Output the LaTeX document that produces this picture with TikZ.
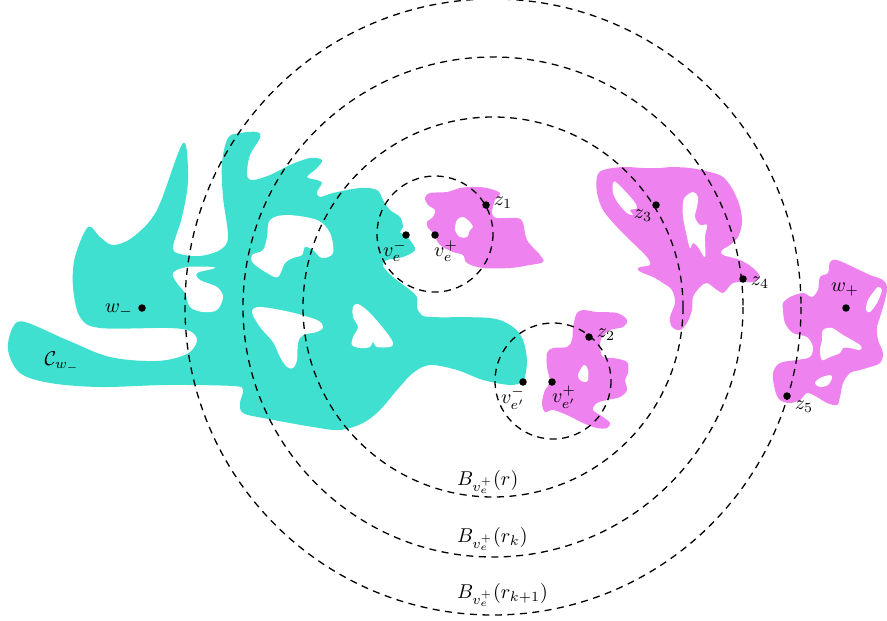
\documentclass[tikz,border=0pt]{standalone}
\usepackage{graphicx}
\begin{document}
\definecolor{cyanblob}{RGB}{64,224,208}
\definecolor{pinkblob}{RGB}{238,130,238}
\newcommand{\bigmath}[1]{\scalebox{2}{$#1$}}
\begin{tikzpicture}[x=1pt,y=-1pt,
  ball/.style={draw=black,line width=1.3pt,dash pattern=on 7pt off 5.5pt},
  pt/.style={circle,fill=black,inner sep=0pt,minimum size=7.5pt},
  lab/.style={inner sep=0pt}]
\useasboundingbox (0,0) rectangle (887,621);
% cyan cluster
\fill[cyanblob] plot[smooth cycle,tension=0.55] coordinates {
(13,327) (25,322) (67,340) (110,357) (157,361) (187,354) (197,341) (190,331) (167,328) (100,328) (80,317) (73,287) (75,257) (88,227) (100,237) (113,245) (133,237) (157,210) (183,143) (188,180) (182,217) (173,247) (180,254) (200,256) (220,250) (228,237) (223,197) (222,163) (228,138) (240,133) (257,132) (260,138) (250,155) (247,175) (253,180) (270,175) (290,165) (310,158) (322,160) (317,168) (307,177) (317,180) (322,183) (317,192) (320,197) (333,193) (360,188) (377,190) (383,200) (390,210) (400,217) (403,227) (400,232) (406,236) (410,240) (415,250) (403,257) (387,260) (383,266) (393,277) (410,290) (417,297) (417,307) (420,313) (430,317) (490,318) (513,327) (523,340) (527,360) (525,377) (523,382) (510,385) (483,380) (457,370) (430,365) (413,373) (397,390) (380,410) (363,423) (340,430) (313,427) (263,418) (243,413) (240,403) (243,390) (233,386) (167,385) (100,387) (50,383) (20,373) (8,350)};
\fill[white] plot[smooth cycle,tension=0.55] coordinates {
(173,273) (187,267) (213,267) (212,269) (197,273) (200,280) (217,287) (223,297) (217,310) (203,312) (190,307) (185,293) (177,283)};
\fill[white] plot[smooth cycle,tension=0.55] coordinates {
(270,220) (287,215) (317,220) (330,233) (333,253) (322,258) (313,250) (305,247) (302,255) (293,258) (285,263) (278,277) (267,273) (253,263) (252,255) (263,250) (267,237)};
\fill[white] plot[smooth cycle,tension=0.55] coordinates {
(252,312) (260,307) (290,312) (317,320) (323,327) (317,332) (303,335) (298,343) (297,360) (293,368) (287,367) (280,357) (273,342) (260,327)};
\fill[white] plot[smooth cycle,tension=0.55] coordinates {
(353,307) (358,304) (370,313) (387,333) (393,343) (390,347) (377,347) (373,342) (370,347) (360,348) (352,345) (353,337) (358,327) (353,317)};
% pink blob 1
\fill[pinkblob] plot[smooth cycle,tension=0.55] coordinates {
(433,233) (440,245) (453,252) (463,255) (467,263) (483,268) (510,268) (530,265) (543,262) (540,255) (527,240) (523,223) (517,218) (497,218) (492,213) (495,200) (500,193) (487,188) (473,187) (460,188) (447,192) (430,193) (425,198) (428,205) (435,210) (433,217) (427,222) (428,228)};
\fill[white] plot[smooth cycle,tension=0.55] coordinates {
(457,220) (463,217) (470,222) (473,227) (470,230) (467,237) (460,237) (455,230)};
% pink blob 2
\fill[pinkblob] plot[smooth cycle,tension=0.55] coordinates {
(577,313) (583,310) (597,312) (617,313) (627,320) (623,327) (610,330) (602,337) (600,347) (603,357) (613,358) (627,362) (628,373) (625,380) (627,390) (620,397) (607,400) (597,403) (593,410) (603,417) (610,423) (607,428) (597,428) (583,423) (567,415) (553,410) (545,412) (542,403) (545,390) (550,382) (547,367) (547,353) (553,348) (567,347) (572,340) (573,327) (575,318)};
\fill[white] plot[smooth cycle,tension=0.55] coordinates {
(580,380) (578,375) (582,367) (585,365) (588,370) (588,380) (585,382)};
% pink blob 3
\fill[pinkblob] plot[smooth cycle,tension=0.55] coordinates {
(597,177) (603,170) (623,167) (643,168) (660,168) (670,167) (690,168) (710,172) (723,177) (733,190) (740,207) (742,223) (738,237) (730,245) (722,250) (723,255) (740,260) (753,268) (760,277) (753,282) (743,282) (733,283) (728,288) (723,293) (717,290) (707,283) (700,287) (693,297) (692,310) (687,323) (680,330) (672,327) (670,317) (675,303) (672,290) (663,283) (653,277) (643,273) (638,270) (640,267) (650,265) (647,257) (633,243) (617,227) (603,210) (597,193)};
\fill[white] plot[smooth cycle,tension=0.55] coordinates {
(613,183) (617,183) (633,200) (637,208) (630,210) (633,215) (627,213) (618,203) (613,193)};
\fill[white] plot[smooth cycle,tension=0.55] coordinates {
(685,197) (693,192) (698,197) (697,207) (695,217) (700,225) (707,225) (705,237) (705,257) (698,247) (693,243) (690,248) (687,237) (683,217) (683,203)};
% pink blob 4
\fill[pinkblob] plot[smooth cycle,tension=0.55] coordinates {
(783,303) (790,297) (803,293) (812,297) (818,290) (820,277) (828,273) (830,262) (837,260) (853,267) (870,275) (883,280) (887,287) (885,300) (880,317) (877,327) (878,340) (883,353) (880,363) (870,367) (860,370) (850,373) (843,383) (840,397) (837,405) (827,403) (817,397) (807,393) (800,400) (790,403) (780,400) (775,390) (773,373) (780,363) (797,360) (810,357) (813,347) (807,337) (793,333) (785,323) (783,310)};
\fill[white] plot[smooth cycle,tension=0.55] coordinates {
(878,287) (882,290) (877,303) (870,312) (866,310) (868,300) (875,290)};
\fill[white] plot[smooth cycle,tension=0.55] coordinates {
(823,330) (832,328) (843,335) (860,345) (860,350) (850,348) (843,348) (840,353) (830,357) (822,360) (820,350) (822,340)};
\fill[white] plot[smooth cycle,tension=0.55] coordinates {
(815,383) (820,378) (830,375) (832,378) (828,385) (820,387)};
% balls
\draw[ball] (493,307) circle (190);
\draw[ball] (493,307) circle (250);
\draw[ball] (493,307) circle (308);
\draw[ball] (435,234) circle (58);
\draw[ball] (553,381) circle (58);
% points
\node[pt] (wm) at (142,308) {};
\node[pt] (vem) at (406,235) {};
\node[pt] (vep) at (435,235) {};
\node[pt] (z1) at (486,205) {};
\node[pt] (vfm) at (523,382) {};
\node[pt] (vfp) at (552,382) {};
\node[pt] (z2) at (589,337) {};
\node[pt] (z3) at (656,205) {};
\node[pt] (z4) at (743,279) {};
\node[pt] (z5) at (787,396) {};
\node[pt] (wp) at (846,308) {};
% labels
\node[lab] (lwm) at (119,311) {\bigmath{w_-}};
\node[lab] (lC) at (62,362) {\bigmath{\mathcal{C}_{w_-}}};
\node[lab] (lvem) at (395,251) {\bigmath{v_e^-}};
\node[lab] (lvep) at (446,251) {\bigmath{v_e^+}};
\node[lab] (lz1) at (503,203) {\bigmath{z_1}};
\node[lab] (lz2) at (606,335) {\bigmath{z_2}};
\node[lab] (lz3) at (643,216) {\bigmath{z_3}};
\node[lab] (lz4) at (760,283) {\bigmath{z_4}};
\node[lab] (lz5) at (804,407) {\bigmath{z_5}};
\node[lab] (lwp) at (845,290) {\bigmath{w_+}};
\node[lab] (lvfm) at (513,398) {\bigmath{v_{e'}^-}};
\node[lab] (lvfp) at (564,397) {\bigmath{v_{e'}^+}};
\node[lab,anchor=base west] (lB1) at (457,485) {\bigmath{B_{v_e^+}(r)}};
\node[lab,anchor=base west] (lB2) at (457,542) {\bigmath{B_{v_e^+}(r_k)}};
\node[lab,anchor=base west] (lB3) at (457,598) {\bigmath{B_{v_e^+}(r_{k+1})}};
\end{tikzpicture}
\end{document}
